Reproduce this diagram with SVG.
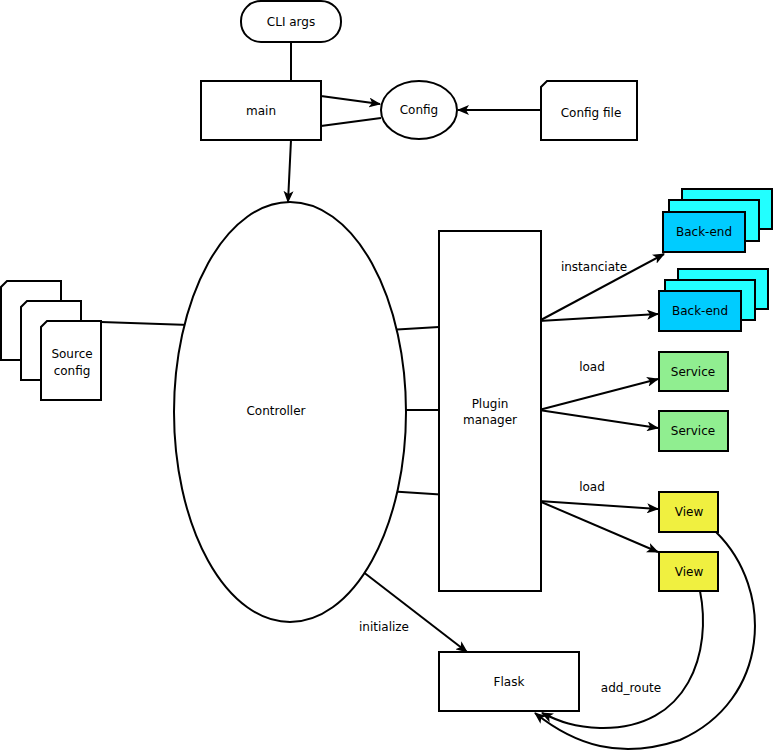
<svg xmlns="http://www.w3.org/2000/svg" width="773" height="752" viewBox="0 0 773 752">
<style>
.s{stroke:#000;stroke-width:2;fill:#fff}
.c{stroke:#000;stroke-width:2;fill:none;marker-end:url(#a)}
.n{stroke:#000;stroke-width:2;fill:none}
text{font-family:"DejaVu Sans",sans-serif;font-size:12px;text-anchor:middle;fill:#000}
.b1{fill:#00ccff}.b2{fill:#22ffff}.sv{fill:#90ee90}.vw{fill:#f0f040}
</style>
<defs><marker id="a" viewBox="0 0 12 10" refX="11" refY="5" markerWidth="12" markerHeight="10" markerUnits="userSpaceOnUse" orient="auto"><path d="M0,0 L12,5 L0,10 L3,5 z" fill="#000"/></marker></defs>
<rect width="773" height="752" fill="#fff"/>
<g id="connectors">
<path class="c" d="M291,42 L291,81 L321,96 L380,104"/>
<path class="c" d="M381,118 L321,126 L291,140 L288,202"/>
<path class="c" d="M541,110 L458,110"/>
<path class="c" d="M101,322 L372,331"/>
<path class="c" d="M372,331 L539,321"/>
<path class="c" d="M539,321 L664,254"/>
<path class="c" d="M539,321 L658,314"/>
<path class="c" d="M372,331 C345,355 345,392 378,410"/>
<path class="c" d="M378,410 L539,410"/>
<path class="c" d="M539,410 L658,379"/>
<path class="c" d="M539,410 L658,428"/>
<path class="c" d="M378,410 C348,430 348,470 371,490"/>
<path class="c" d="M371,490 L539,501"/>
<path class="c" d="M539,501 L658,509"/>
<path class="c" d="M539,501 L658,552"/>
<path class="c" d="M349,561 L467,652"/>
<path class="c" d="M716,532 C775,590 770,700 680,740 C620,760 575,745 535,713"/>
<path class="c" d="M700,591 C712,650 690,730 600,728 C575,727 560,722 542,713"/>
</g>
<g id="cli"><rect class="s" x="241" y="1" width="100" height="41" rx="20"/><text x="291" y="26">CLI args</text></g>
<g id="main"><rect class="s" x="201" y="81" width="120" height="59"/><text x="261" y="115">main</text></g>
<g id="config"><ellipse class="s" cx="419" cy="110" rx="38" ry="29"/><text x="419" y="114">Config</text></g>
<g id="configfile"><path class="s" d="M547,81 L637,81 L637,140 L541,140 L541,87 z"/><text x="591" y="117">Config file</text></g>
<g id="controller"><ellipse class="s" cx="290" cy="412" rx="116" ry="210"/><text x="276" y="415">Controller</text></g>
<g id="plugin"><rect class="s" x="439" y="231" width="102" height="360"/><text x="490" y="408">Plugin</text><text x="490" y="424">manager</text></g>
<g id="backend1"><rect class="s b2" x="682" y="189" width="90" height="40"/><rect class="s b2" x="669" y="200" width="90" height="41"/><rect class="s b1" x="663" y="212" width="82" height="40"/><text x="704" y="236">Back-end</text></g>
<g id="backend2"><rect class="s b2" x="678" y="269" width="90" height="40"/><rect class="s b2" x="665" y="280" width="90" height="40"/><rect class="s b1" x="659" y="291" width="82" height="40"/><text x="700" y="315">Back-end</text></g>
<g id="service1"><rect class="s sv" x="659" y="352" width="69" height="39"/><text x="693" y="376">Service</text></g>
<g id="service2"><rect class="s sv" x="659" y="411" width="69" height="40"/><text x="693" y="435">Service</text></g>
<g id="view1"><rect class="s vw" x="659" y="492" width="59" height="40"/><text x="689" y="516">View</text></g>
<g id="view2"><rect class="s vw" x="659" y="552" width="59" height="39"/><text x="689" y="576">View</text></g>
<g id="flask"><rect class="s" x="439" y="652" width="140" height="59"/><text x="509" y="686">Flask</text></g>
<g id="sourceconfig">
<path class="s" d="M7,281 L61,281 L61,360 L1,360 L1,287 z"/>
<path class="s" d="M27,301 L81,301 L81,380 L21,380 L21,307 z"/>
<path class="s" d="M47,321 L101,321 L101,400 L41,400 L41,327 z"/>
<text x="72" y="358">Source</text><text x="72" y="375">config</text>
</g>
<g id="labels">
<text x="594" y="271">instanciate</text>
<text x="592" y="371">load</text>
<text x="592" y="491">load</text>
<text x="384" y="631">initialize</text>
<text x="631" y="692">add_route</text>
</g>
</svg>
